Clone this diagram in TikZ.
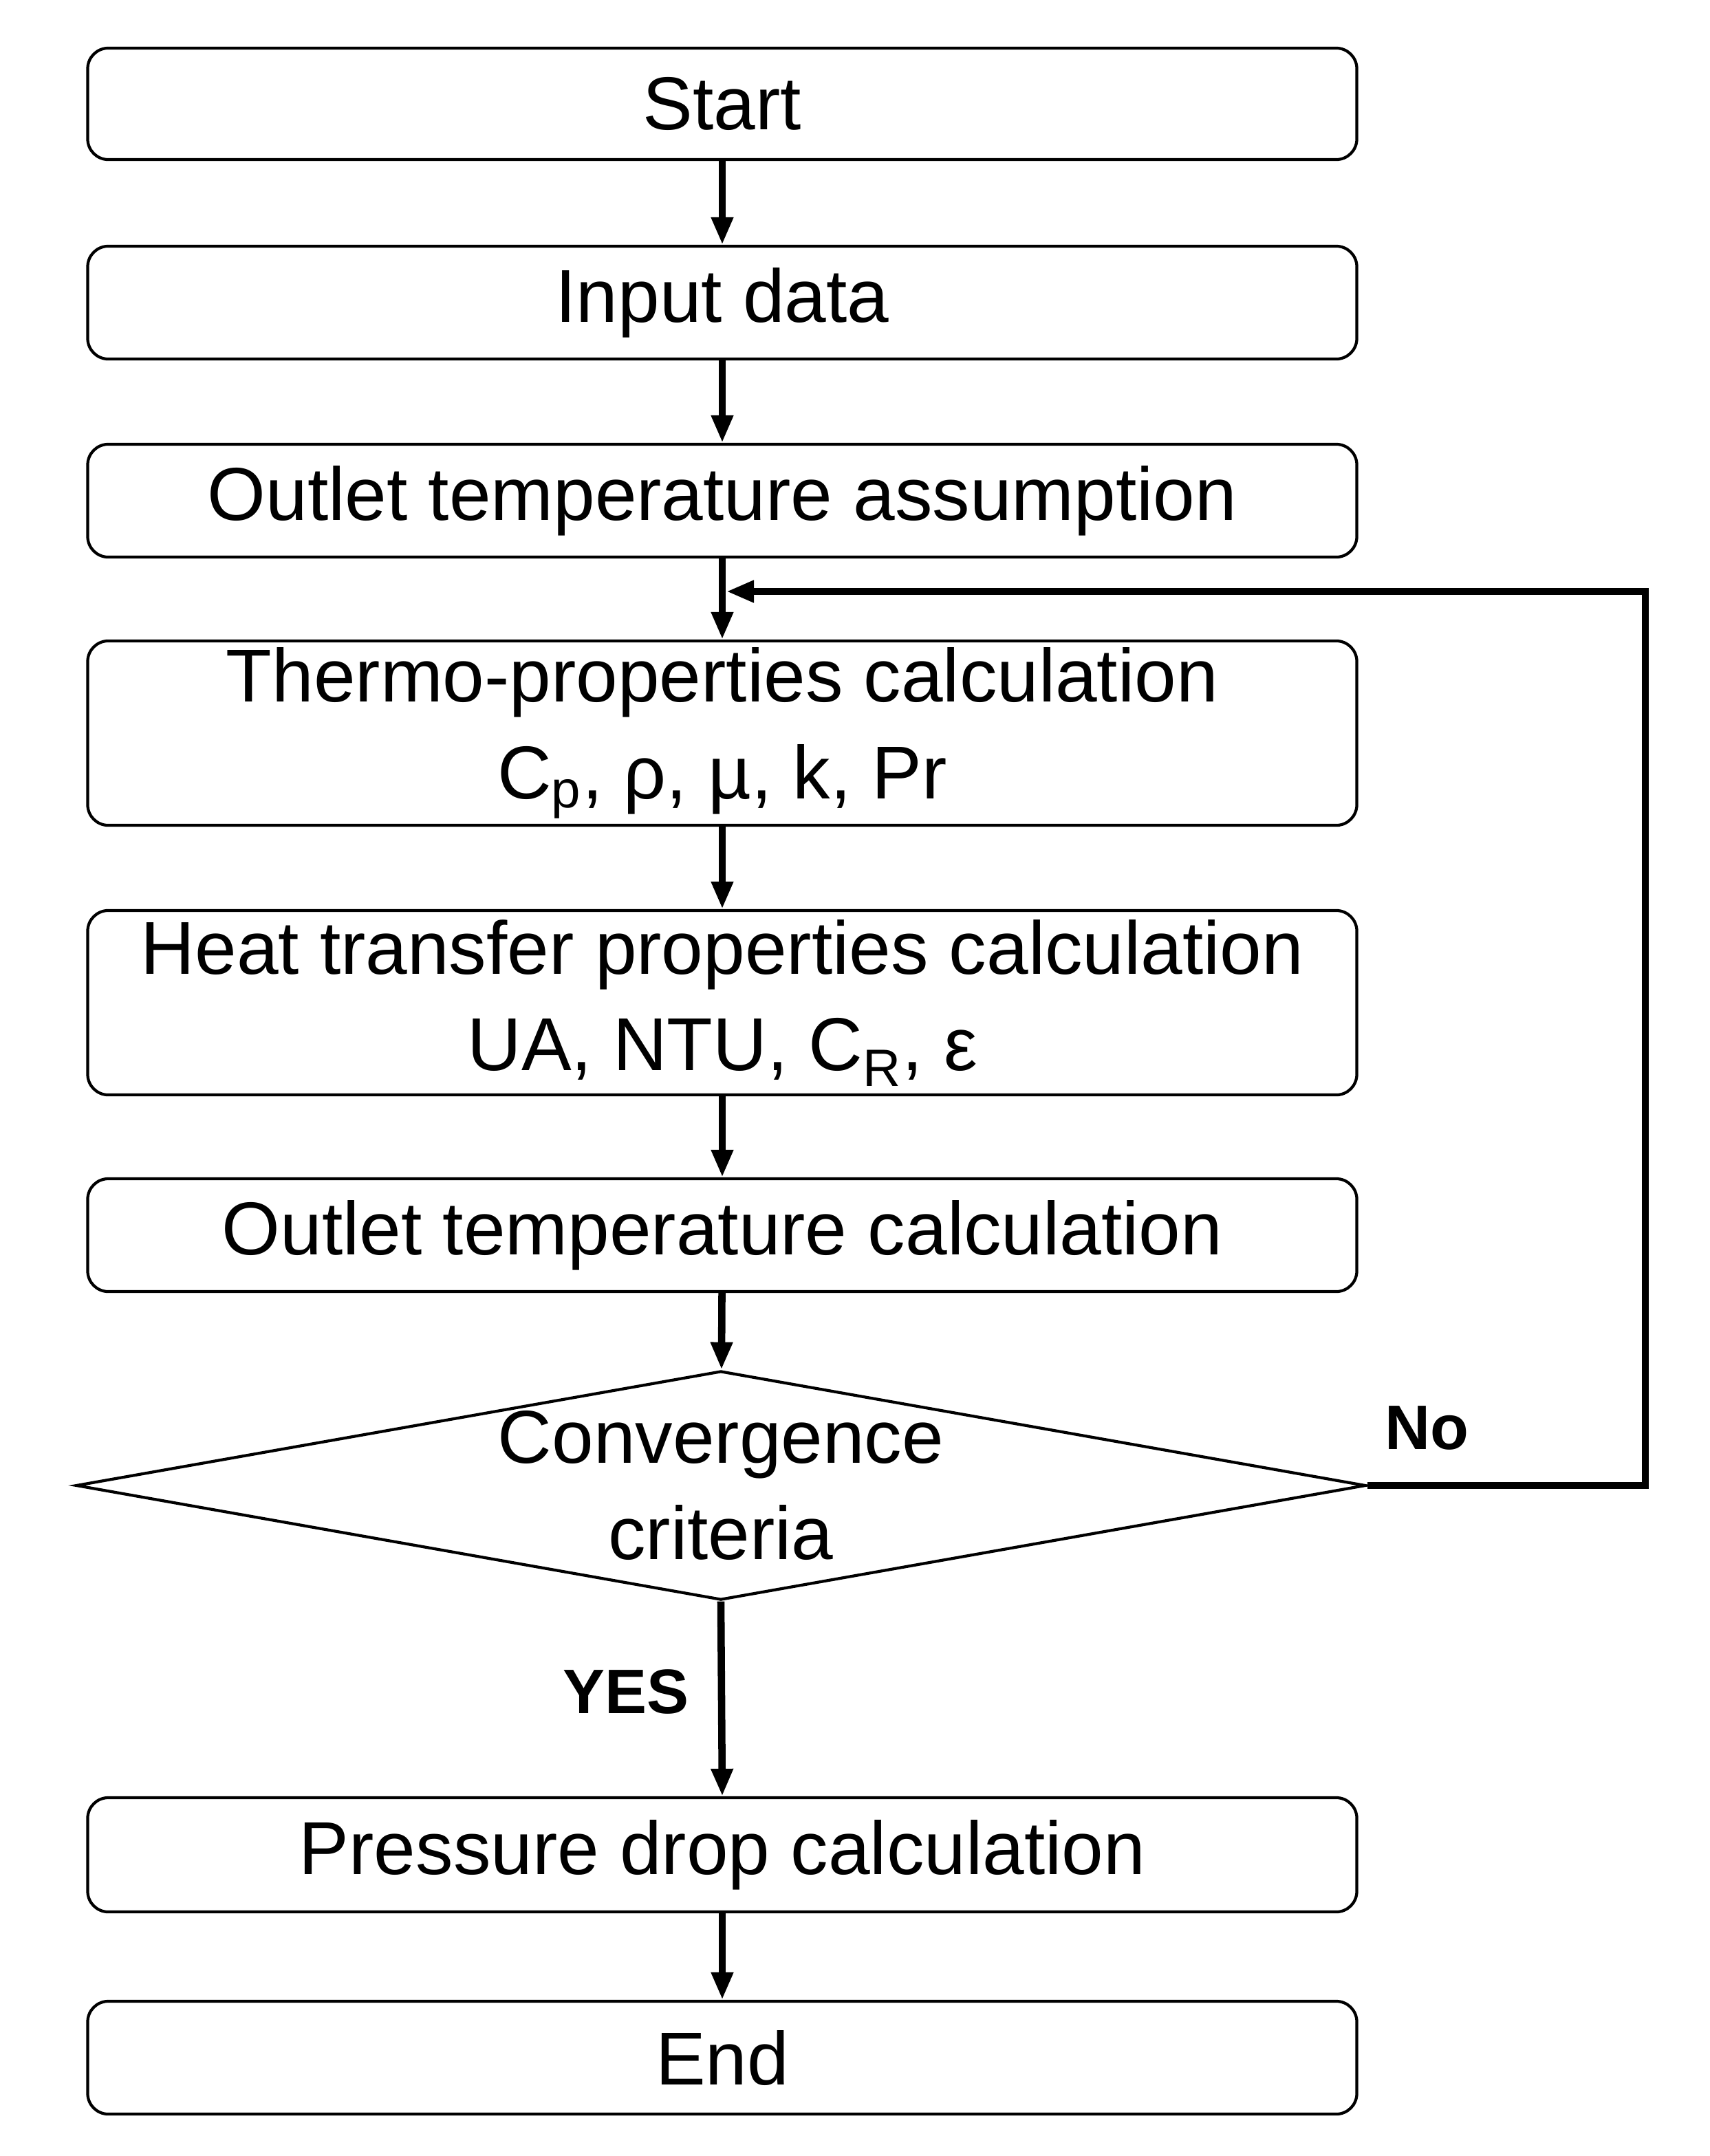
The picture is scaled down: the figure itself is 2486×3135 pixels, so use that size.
\documentclass[tikz,border=0pt]{standalone}
\usepackage{fontspec}
\setmainfont{Liberation Sans}
\usetikzlibrary{shapes.geometric,arrows.meta}
\begin{document}
\begin{tikzpicture}[x=0.01cm,y=-0.01cm,
  box/.style={draw,line width=1.2pt,rounded corners=0.3cm,minimum width=18.44cm,align=center,font=\fontsize{31}{40}\selectfont,inner sep=0pt},
  arr/.style={line width=3pt,-{Triangle[length=0.4cm,width=0.3cm]}},
  lab/.style={font=\fontsize{26}{30}\selectfont\bfseries}]
\useasboundingbox (0,0) rectangle (2486,3135);
\node[box,minimum height=1.62cm] (start) at (1050,151) {Start};
\node[box,minimum height=1.64cm] (input) at (1050,440) {Input data};
\node[box,minimum height=1.64cm] (assume) at (1050,728) {Outlet temperature assumption};
\node[box,minimum height=2.68cm] (thermo) at (1050,1066) {Thermo-properties calculation\\C\textsubscript{p}, ρ, µ, k, Pr};
\node[box,minimum height=2.68cm] (heat) at (1050,1458) {Heat transfer properties calculation\\UA, NTU, C\textsubscript{R}, ε};
\node[box,minimum height=1.64cm] (outcalc) at (1050,1796) {Outlet temperature calculation};
\node[draw,line width=1.2pt,diamond,aspect=5.63,minimum width=18.48cm,minimum height=3.28cm,inner sep=0pt,align=center,font=\fontsize{31}{40}\selectfont] (conv) at (1048,2160) {Convergence\\criteria};
\node[box,minimum height=1.66cm] (press) at (1050,2697) {Pressure drop calculation};
\node[box,minimum height=1.64cm] (end) at (1050,2992) {End};
\draw[arr] (start) -- (input);
\draw[arr] (input) -- (assume);
\draw[arr] (assume) -- (thermo);
\draw[arr] (thermo) -- (heat);
\draw[arr] (heat) -- (outcalc);
\draw[arr] (outcalc) -- (conv);
\draw[arr] (conv.south) -- (press.north);
\draw[arr] (press) -- (end);
\coordinate (c1) at (2392,2160);
\coordinate (c2) at (2392,860);
\coordinate (c3) at (1056,860);
\draw[line width=3pt,-{Triangle[length=0.4cm,width=0.3cm]}] (conv.east) -- (c1) -- (c2) -- (c3);
\node[lab] (no) at (2074,2076) {No};
\node[lab] (yes) at (910,2460) {YES};
\end{tikzpicture}
\end{document}
